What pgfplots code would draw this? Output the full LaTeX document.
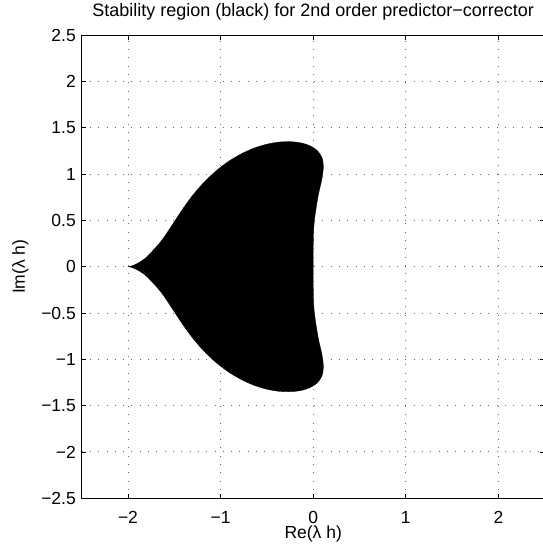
\documentclass[border=0pt]{standalone}
\usepackage{fontspec}
\setmainfont{Liberation Sans}
\usepackage{pgfplots}
\pgfplotsset{compat=1.18}

% Boundary of the absolute stability region (upper half; the lower half is its mirror image)
\newcommand{\stabregion}{%
(-2.000,0.000) (-1.983,0.002) (-1.936,0.017) (-1.869,0.052) (-1.793,0.110)
(-1.646,0.271) (-1.522,0.452) (-1.408,0.625) (-1.294,0.780) (-1.173,0.918)
(-1.046,1.037) (-0.913,1.138) (-0.776,1.219) (-0.638,1.281) (-0.500,1.323)
(-0.367,1.346) (-0.241,1.350) (-0.128,1.336) (-0.031,1.304) (0.045,1.253)
(0.094,1.180) (0.110,1.082) (0.094,0.947) (0.053,0.763) (0.016,0.526)
(0.005,0.395) (0.001,0.263) (0.000,0.131) (0.000,0.000)
(0.000,-0.131) (0.001,-0.263) (0.005,-0.395) (0.016,-0.526) (0.053,-0.763)
(0.094,-0.947) (0.110,-1.082) (0.094,-1.180) (0.045,-1.253) (-0.031,-1.304)
(-0.128,-1.336) (-0.241,-1.350) (-0.367,-1.346) (-0.500,-1.323) (-0.638,-1.281)
(-0.776,-1.219) (-0.913,-1.138) (-1.046,-1.037) (-1.173,-0.918) (-1.294,-0.780)
(-1.408,-0.625) (-1.522,-0.452) (-1.646,-0.271) (-1.793,-0.110) (-1.869,-0.052)
(-1.936,-0.017) (-1.983,-0.002) (-2.000,0.000)}

\begin{document}
\begin{tikzpicture}
\begin{axis}[
  at={(81.7pt,47.8pt)}, anchor=south west,
  scale only axis, width=463pt, height=463pt,
  xmin=-2.5, xmax=2.5, ymin=-2.5, ymax=2.5,
  xtick={-2,-1,0,1,2},
  xticklabels={−2,−1,0,1,2},
  ytick={-2.5,-2,-1.5,-1,-0.5,0,0.5,1,1.5,2,2.5},
  yticklabels={−2.5,−2,−1.5,−1,−0.5,0,0.5,1,1.5,2,2.5},
  tick align=inside, major tick length=4.7pt,
  tick style={black, line width=0.8pt},
  axis line style={black, line width=0.9pt},
  grid=major,
  major grid style={black!60, line width=0.9pt, dash pattern=on 0.9pt off 7.4pt},
  ticklabel style={font=\fontsize{17.5}{20}\selectfont},
  xticklabel style={anchor=base, yshift=-24.8pt, inner sep=0pt},
  yticklabel style={anchor=east, xshift=-5.7pt, inner sep=0pt},
  title={Stability region (black) for 2nd order predictor−corrector},
  title style={at={(axis description cs:0.5,1.027)}, anchor=base,
    inner sep=0pt, font=\fontsize{18}{21}\selectfont},
  xlabel={Re(λ h)},
  ylabel={Im(λ h)},
  every axis x label/.style={at={(axis description cs:0.5,-0.0881)}, anchor=base,
    inner sep=0pt, font=\fontsize{17.5}{20}\selectfont},
  every axis y label/.style={at={(axis description cs:-0.1225,0.5)}, rotate=90,
    anchor=base, inner sep=0pt, font=\fontsize{17.5}{20}\selectfont},
]
\addplot[fill=black, draw=black, line width=0.3pt, smooth, tension=0.5]
  coordinates {\stabregion};
\end{axis}
\pgfresetboundingbox
\path[use as bounding box] (0pt,0pt) rectangle (542pt,546pt);
\end{tikzpicture}
\end{document}
